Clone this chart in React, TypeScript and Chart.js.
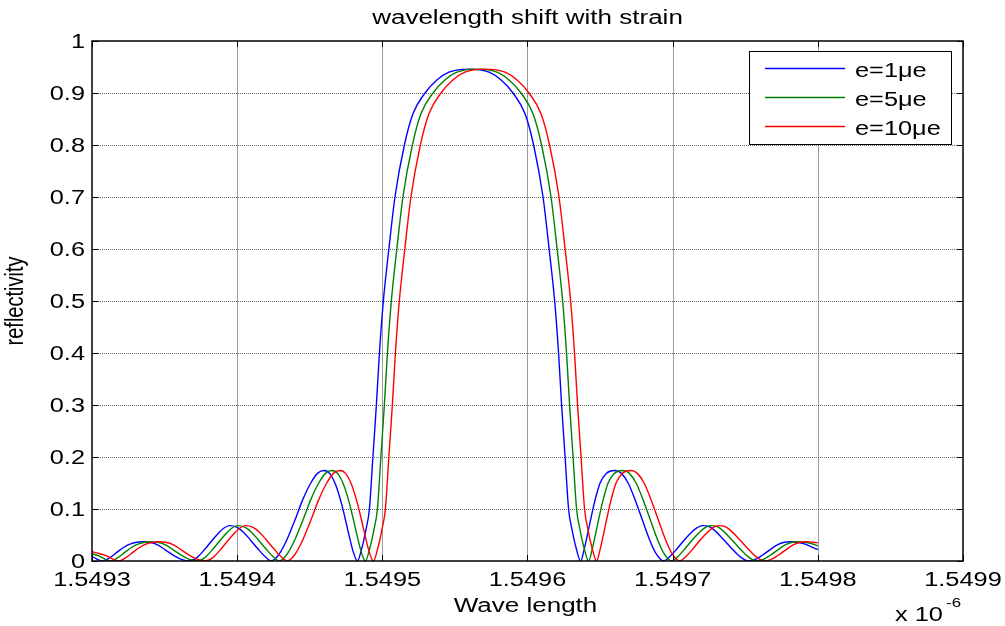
import { useEffect, useRef } from 'react';
import { Chart, registerables } from 'chart.js';

Chart.register(...registerables);

// Text style: Helvetica-like face, drawn slightly wide
const FONT = '"Liberation Sans", Arial, Helvetica, sans-serif';
const TEXT_SIZE = 19.5;
const TEXT_STRETCH = 1.3;

const chartTitle = 'wavelength shift with strain';
const xAxisTitle = 'Wave length';
const yAxisTitle = 'reflectivity';
const xExponentBase = 'x 10';
const xExponentPower = '-6';

// Wavelength axis (nm values, labelled in units of 1e-6 m)
const xTickValues = [1549.3, 1549.4, 1549.5, 1549.6, 1549.7, 1549.8, 1549.9];
const xTickLabels = ['1.5493', '1.5494', '1.5495', '1.5496', '1.5497', '1.5498', '1.5499'];
const yTickValues = [0, 0.1, 0.2, 0.3, 0.4, 0.5, 0.6, 0.7, 0.8, 0.9, 1];
const yTickLabels = ['0', '0.1', '0.2', '0.3', '0.4', '0.5', '0.6', '0.7', '0.8', '0.9', '1'];

const seriesLabels = ['e=1\u03bce', 'e=5\u03bce', 'e=10\u03bce'];
const seriesColors = ['#0000ff', '#008000', '#ff0000'];

// e = 1 µe
const wavelength1 = [
  1549.3000, 1549.3031, 1549.3075, 1549.3121, 1549.3169, 1549.3217, 1549.3266, 1549.3307, 1549.3348, 1549.3397,
  1549.3452, 1549.3507, 1549.3562, 1549.3617, 1549.3672, 1549.3721, 1549.3769, 1549.3817, 1549.3866, 1549.3907,
  1549.3948, 1549.3997, 1549.4045, 1549.4093, 1549.4141, 1549.4190, 1549.4236, 1549.4286, 1549.4341, 1549.4397,
  1549.4452, 1549.4507, 1549.4555, 1549.4599, 1549.4638, 1549.4679, 1549.4721, 1549.4762, 1549.4797, 1549.4828,
  1549.4859, 1549.4887, 1549.4911, 1549.4935, 1549.4959, 1549.4980, 1549.5007, 1549.5045, 1549.5087, 1549.5152,
  1549.5211, 1549.5294, 1549.5376, 1549.5459, 1549.5597, 1549.5735, 1549.5818, 1549.5900, 1549.5983, 1549.6042,
  1549.6107, 1549.6149, 1549.6187, 1549.6214, 1549.6235, 1549.6259, 1549.6283, 1549.6307, 1549.6335, 1549.6366,
  1549.6390, 1549.6424, 1549.6459, 1549.6500, 1549.6541, 1549.6603, 1549.6645, 1549.6693, 1549.6741, 1549.6790,
  1549.6838, 1549.6886, 1549.6937, 1549.6983, 1549.7031, 1549.7079, 1549.7128, 1549.7169, 1549.7203, 1549.7252,
  1549.7300, 1549.7348, 1549.7397, 1549.7445, 1549.7486, 1549.7521, 1549.7569, 1549.7617, 1549.7672, 1549.7721,
  1549.7769, 1549.7810, 1549.7859, 1549.7907, 1549.7948, 1549.8000,
];
const reflectivity1 = [
  0.009, 0.004, 0.000, 0.006, 0.016, 0.026, 0.033, 0.036, 0.037, 0.036,
  0.031, 0.021, 0.011, 0.003, 0.000, 0.006, 0.020, 0.036, 0.052, 0.063,
  0.068, 0.065, 0.055, 0.040, 0.024, 0.009, 0.000, 0.012, 0.040, 0.078,
  0.118, 0.150, 0.169, 0.174, 0.168, 0.146, 0.108, 0.060, 0.020, 0.000,
  0.025, 0.060, 0.100, 0.200, 0.300, 0.400, 0.500, 0.600, 0.700, 0.800,
  0.860, 0.900, 0.925, 0.940, 0.946, 0.940, 0.925, 0.900, 0.860, 0.800,
  0.700, 0.600, 0.500, 0.400, 0.300, 0.200, 0.100, 0.060, 0.025, 0.000,
  0.022, 0.065, 0.110, 0.150, 0.168, 0.174, 0.169, 0.150, 0.118, 0.080,
  0.043, 0.014, 0.000, 0.009, 0.024, 0.040, 0.055, 0.064, 0.068, 0.066,
  0.056, 0.042, 0.027, 0.013, 0.004, 0.000, 0.003, 0.011, 0.022, 0.031,
  0.036, 0.037, 0.036, 0.033, 0.028, 0.022,
];

// e = 5 µe
const wavelength5 = [
  1549.3000, 1549.3055, 1549.3086, 1549.3130, 1549.3176, 1549.3224, 1549.3272, 1549.3321, 1549.3362, 1549.3403,
  1549.3452, 1549.3507, 1549.3562, 1549.3617, 1549.3672, 1549.3727, 1549.3776, 1549.3824, 1549.3872, 1549.3921,
  1549.3962, 1549.4003, 1549.4052, 1549.4100, 1549.4148, 1549.4196, 1549.4245, 1549.4291, 1549.4341, 1549.4396,
  1549.4452, 1549.4507, 1549.4562, 1549.4610, 1549.4654, 1549.4693, 1549.4734, 1549.4776, 1549.4817, 1549.4852,
  1549.4883, 1549.4914, 1549.4942, 1549.4966, 1549.4990, 1549.5014, 1549.5035, 1549.5062, 1549.5100, 1549.5142,
  1549.5207, 1549.5266, 1549.5349, 1549.5431, 1549.5514, 1549.5652, 1549.5790, 1549.5873, 1549.5955, 1549.6038,
  1549.6097, 1549.6162, 1549.6204, 1549.6242, 1549.6269, 1549.6290, 1549.6314, 1549.6338, 1549.6362, 1549.6390,
  1549.6421, 1549.6445, 1549.6479, 1549.6514, 1549.6555, 1549.6596, 1549.6658, 1549.6700, 1549.6748, 1549.6796,
  1549.6845, 1549.6893, 1549.6941, 1549.6992, 1549.7038, 1549.7086, 1549.7134, 1549.7183, 1549.7224, 1549.7258,
  1549.7307, 1549.7355, 1549.7403, 1549.7452, 1549.7500, 1549.7541, 1549.7576, 1549.7624, 1549.7672, 1549.7727,
  1549.7776, 1549.7824, 1549.7865, 1549.7914, 1549.7962, 1549.8000,
];
const reflectivity5 = [
  0.014, 0.009, 0.004, 0.000, 0.006, 0.016, 0.026, 0.033, 0.036, 0.037,
  0.036, 0.031, 0.021, 0.011, 0.003, 0.000, 0.006, 0.020, 0.036, 0.052,
  0.063, 0.068, 0.065, 0.055, 0.040, 0.024, 0.009, 0.000, 0.012, 0.040,
  0.078, 0.118, 0.150, 0.169, 0.174, 0.168, 0.146, 0.108, 0.060, 0.020,
  0.000, 0.025, 0.060, 0.100, 0.200, 0.300, 0.400, 0.500, 0.600, 0.700,
  0.800, 0.860, 0.900, 0.925, 0.940, 0.946, 0.940, 0.925, 0.900, 0.860,
  0.800, 0.700, 0.600, 0.500, 0.400, 0.300, 0.200, 0.100, 0.060, 0.025,
  0.000, 0.022, 0.065, 0.110, 0.150, 0.168, 0.174, 0.169, 0.150, 0.118,
  0.080, 0.043, 0.014, 0.000, 0.009, 0.024, 0.040, 0.055, 0.064, 0.068,
  0.066, 0.056, 0.042, 0.027, 0.013, 0.004, 0.000, 0.003, 0.011, 0.022,
  0.031, 0.036, 0.037, 0.036, 0.033, 0.029,
];

// e = 10 µe
const wavelength10 = [
  1549.3000, 1549.3055, 1549.3110, 1549.3141, 1549.3185, 1549.3231, 1549.3279, 1549.3327, 1549.3376, 1549.3417,
  1549.3458, 1549.3507, 1549.3562, 1549.3617, 1549.3672, 1549.3727, 1549.3782, 1549.3831, 1549.3879, 1549.3927,
  1549.3976, 1549.4017, 1549.4058, 1549.4107, 1549.4155, 1549.4203, 1549.4251, 1549.4300, 1549.4346, 1549.4396,
  1549.4451, 1549.4507, 1549.4562, 1549.4617, 1549.4665, 1549.4709, 1549.4748, 1549.4789, 1549.4831, 1549.4872,
  1549.4907, 1549.4938, 1549.4969, 1549.4997, 1549.5021, 1549.5045, 1549.5069, 1549.5090, 1549.5117, 1549.5155,
  1549.5197, 1549.5262, 1549.5321, 1549.5404, 1549.5486, 1549.5569, 1549.5707, 1549.5845, 1549.5928, 1549.6010,
  1549.6093, 1549.6152, 1549.6217, 1549.6259, 1549.6297, 1549.6324, 1549.6345, 1549.6369, 1549.6393, 1549.6417,
  1549.6445, 1549.6476, 1549.6500, 1549.6534, 1549.6569, 1549.6610, 1549.6651, 1549.6713, 1549.6755, 1549.6803,
  1549.6851, 1549.6900, 1549.6948, 1549.6996, 1549.7047, 1549.7093, 1549.7141, 1549.7189, 1549.7238, 1549.7279,
  1549.7313, 1549.7362, 1549.7410, 1549.7458, 1549.7507, 1549.7555, 1549.7596, 1549.7631, 1549.7679, 1549.7727,
  1549.7782, 1549.7831, 1549.7879, 1549.7920, 1549.7969, 1549.8000,
];
const reflectivity10 = [
  0.018, 0.014, 0.009, 0.004, 0.000, 0.006, 0.016, 0.026, 0.033, 0.036,
  0.037, 0.036, 0.031, 0.021, 0.011, 0.003, 0.000, 0.006, 0.020, 0.036,
  0.052, 0.063, 0.068, 0.065, 0.055, 0.040, 0.024, 0.009, 0.000, 0.012,
  0.040, 0.078, 0.118, 0.150, 0.169, 0.174, 0.168, 0.146, 0.108, 0.060,
  0.020, 0.000, 0.025, 0.060, 0.100, 0.200, 0.300, 0.400, 0.500, 0.600,
  0.700, 0.800, 0.860, 0.900, 0.925, 0.940, 0.946, 0.940, 0.925, 0.900,
  0.860, 0.800, 0.700, 0.600, 0.500, 0.400, 0.300, 0.200, 0.100, 0.060,
  0.025, 0.000, 0.022, 0.065, 0.110, 0.150, 0.168, 0.174, 0.169, 0.150,
  0.118, 0.080, 0.043, 0.014, 0.000, 0.009, 0.024, 0.040, 0.055, 0.064,
  0.068, 0.066, 0.056, 0.042, 0.027, 0.013, 0.004, 0.000, 0.003, 0.011,
  0.022, 0.031, 0.036, 0.037, 0.036, 0.035,
];

const seriesWavelengths = [wavelength1, wavelength5, wavelength10];
const seriesReflectivity = [reflectivity1, reflectivity5, reflectivity10];

type Align = 'left' | 'center' | 'right';

function wideText(
  ctx: CanvasRenderingContext2D,
  text: string,
  x: number,
  y: number,
  align: Align,
  size = TEXT_SIZE,
) {
  ctx.save();
  ctx.font = `${size}px ${FONT}`;
  ctx.textAlign = 'left';
  ctx.textBaseline = 'alphabetic';
  const w = ctx.measureText(text).width * TEXT_STRETCH;
  const x0 = align === 'left' ? x : align === 'center' ? x - w / 2 : x - w;
  ctx.translate(x0, y);
  ctx.scale(TEXT_STRETCH, 1);
  ctx.fillText(text, 0, 0);
  ctx.restore();
}

const axesFrame = {
  id: 'axesFrame',
  beforeDatasetsDraw(chart: any) {
    const { ctx, chartArea: a, scales } = chart;
    const xs = scales.x;
    const ys = scales.y;
    ctx.save();
    // vertical grid lines
    ctx.strokeStyle = '#9c9c9c';
    ctx.lineWidth = 1;
    xTickValues.forEach((v) => {
      const px = Math.round(xs.getPixelForValue(v)) + 0.5;
      if (px <= a.left + 2 || px >= a.right - 2) return;
      ctx.beginPath();
      ctx.moveTo(px, a.top);
      ctx.lineTo(px, a.bottom);
      ctx.stroke();
    });
    // horizontal dotted grid lines
    ctx.strokeStyle = '#6a6a6a';
    ctx.setLineDash([1, 1]);
    yTickValues.forEach((v) => {
      const py = Math.round(ys.getPixelForValue(v)) + 0.5;
      if (py <= a.top + 2 || py >= a.bottom - 2) return;
      ctx.beginPath();
      ctx.moveTo(a.left, py);
      ctx.lineTo(a.right, py);
      ctx.stroke();
    });
    ctx.restore();
  },
  afterDraw(chart: any) {
    const { ctx, chartArea: a, scales } = chart;
    const xs = scales.x;
    const ys = scales.y;
    const tick = 6;
    ctx.save();
    ctx.fillStyle = '#000';

    // axes box
    ctx.strokeStyle = '#000';
    ctx.lineWidth = 1.5;
    ctx.strokeRect(a.left, a.top, a.right - a.left, a.bottom - a.top);

    // inward ticks on all four sides
    ctx.lineWidth = 1;
    xTickValues.forEach((v) => {
      const px = Math.round(xs.getPixelForValue(v)) + 0.5;
      ctx.beginPath();
      ctx.moveTo(px, a.bottom);
      ctx.lineTo(px, a.bottom - tick);
      ctx.moveTo(px, a.top);
      ctx.lineTo(px, a.top + tick);
      ctx.stroke();
    });
    yTickValues.forEach((v) => {
      const py = Math.round(ys.getPixelForValue(v)) + 0.5;
      ctx.beginPath();
      ctx.moveTo(a.left, py);
      ctx.lineTo(a.left + tick, py);
      ctx.moveTo(a.right, py);
      ctx.lineTo(a.right - tick, py);
      ctx.stroke();
    });

    // tick labels
    xTickValues.forEach((v, i) => {
      wideText(ctx, xTickLabels[i], xs.getPixelForValue(v), a.bottom + 25, 'center');
    });
    yTickValues.forEach((v, i) => {
      wideText(ctx, yTickLabels[i], a.left - 7, ys.getPixelForValue(v) + 7.3, 'right');
    });

    // titles
    const cx = (a.left + a.right) / 2;
    wideText(ctx, chartTitle, cx, 24, 'center', 20);
    wideText(ctx, xAxisTitle, cx - 2, 612, 'center', 20);
    wideText(ctx, xExponentBase, 895, 621, 'left');
    wideText(ctx, xExponentPower, 946, 607, 'left', 13);

    ctx.save();
    ctx.font = `20px ${FONT}`;
    ctx.textAlign = 'center';
    ctx.textBaseline = 'alphabetic';
    ctx.translate(23, (a.top + a.bottom) / 2);
    ctx.scale(TEXT_STRETCH, 1);
    ctx.rotate(-Math.PI / 2);
    ctx.fillText(yAxisTitle, 0, 0);
    ctx.restore();

    // legend
    const bx = 749.5;
    const by = 51.5;
    const bw = 202;
    const bh = 93;
    ctx.fillStyle = '#fff';
    ctx.fillRect(bx, by, bw, bh);
    ctx.strokeStyle = '#000';
    ctx.lineWidth = 1;
    ctx.strokeRect(bx, by, bw, bh);
    ctx.fillStyle = '#000';
    seriesLabels.forEach((label, i) => {
      const ly = 68.5 + i * 29;
      ctx.strokeStyle = seriesColors[i];
      ctx.lineWidth = 1.3;
      ctx.beginPath();
      ctx.moveTo(765, ly);
      ctx.lineTo(845, ly);
      ctx.stroke();
      wideText(ctx, label, 855, ly + 8, 'left');
    });
    ctx.restore();
  },
};

export default function App() {
  const canvasRef = useRef<HTMLCanvasElement | null>(null);

  useEffect(() => {
    const canvas = canvasRef.current;
    if (!canvas) return;
    const datasets = seriesLabels.map((label, i) => ({
      label,
      data: seriesWavelengths[i].map((x, j) => ({ x, y: seriesReflectivity[i][j] })),
      borderColor: seriesColors[i],
      backgroundColor: seriesColors[i],
      borderWidth: 1.4,
      pointRadius: 0,
      fill: false,
      cubicInterpolationMode: 'monotone' as const,
      order: seriesLabels.length - i,
    }));

    const chart = new Chart(canvas, {
      type: 'line',
      data: { datasets },
      options: {
        animation: false,
        responsive: false,
        maintainAspectRatio: false,
        devicePixelRatio: 1,
        events: [],
        layout: { padding: { left: 0, right: 42, top: 41, bottom: 0 } },
        plugins: {
          legend: { display: false },
          title: { display: false },
          tooltip: { enabled: false },
        },
        scales: {
          x: {
            type: 'linear',
            min: 1549.3,
            max: 1549.9,
            grid: { display: false },
            border: { display: false },
            ticks: { display: false },
            afterFit: (s: any) => {
              s.height = 65;
            },
          },
          y: {
            type: 'linear',
            min: 0,
            max: 1,
            grid: { display: false },
            border: { display: false },
            ticks: { display: false },
            afterFit: (s: any) => {
              s.width = 92;
            },
          },
        },
      },
      plugins: [axesFrame],
    });
    return () => chart.destroy();
  }, []);

  return (
    <div style={{ position: 'fixed', left: 0, top: 0, width: 1005, height: 626, background: '#fff' }}>
      <canvas ref={canvasRef} width={1005} height={626} style={{ display: 'block' }} />
    </div>
  );
}
